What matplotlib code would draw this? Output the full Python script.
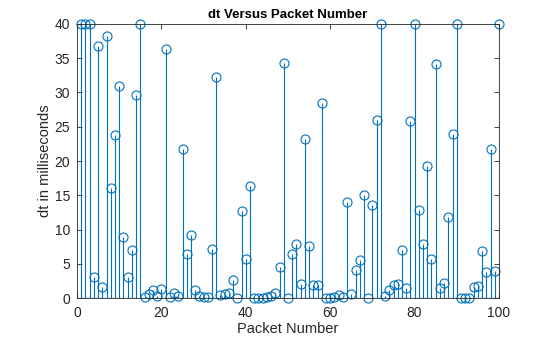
import numpy as np
import matplotlib.pyplot as plt

plt.rcParams['font.family'] = ['Liberation Sans', 'DejaVu Sans']

# inter-packet delay (ms) for each packet
packet = np.arange(1, 101)
dt_ms = [40, 40, 40, 3.1, 36.8, 1.6, 38.2, 16.1, 23.8, 31.0,
         8.9, 3.1, 7.0, 29.6, 40, 0.1, 0.6, 1.1, 0.3, 1.3,
         36.4, 0.2, 0.8, 0.3, 21.8, 6.4, 9.2, 1.2, 0.3, 0.2,
         0.2, 7.1, 32.3, 0.5, 0.6, 0.8, 2.6, 0.0, 12.7, 5.7,
         16.4, 0.0, 0.0, 0.0, 0.1, 0.3, 0.7, 4.5, 34.3, 0.0,
         6.4, 7.9, 2.0, 23.2, 7.6, 1.9, 1.9, 28.4, 0.0, 0.0,
         0.1, 0.4, 0.1, 14.0, 0.6, 4.1, 5.5, 15.0, 0.0, 13.6,
         26.0, 40, 0.3, 1.1, 1.9, 2.0, 7.0, 1.4, 25.9, 40,
         12.8, 7.9, 19.2, 5.7, 34.2, 1.5, 2.2, 11.8, 23.9, 40,
         0.0, 0.0, 0.0, 1.6, 1.8, 6.8, 3.8, 21.7, 3.9, 40]

blue = '#0072BD'
axcol = '#262626'

fig = plt.figure(figsize=(5.6, 3.37), dpi=100)
ax = fig.add_axes([0.1375, 0.1157, 0.7536, 0.8131])

markerline, stemlines, baseline = ax.stem(packet, dt_ms)
markerline.set_marker('o')
markerline.set_markerfacecolor('none')
markerline.set_markeredgecolor(blue)
markerline.set_markersize(6.5)
markerline.set_markeredgewidth(0.8)
markerline.set_clip_on(False)
stemlines.set_color(blue)
stemlines.set_linewidth(0.8)
baseline.set_color(axcol)
baseline.set_linewidth(0.8)

ax.set_xlim(0, 100)
ax.set_ylim(0, 40)
ax.set_xticks(np.arange(0, 101, 20))
ax.set_yticks(np.arange(0, 41, 5))
ax.tick_params(direction='in', top=True, right=True, length=3.5,
               width=0.6, labelsize=10, colors=axcol)
ax.tick_params(axis='x', pad=6)
ax.tick_params(axis='y', pad=5)
for s in ax.spines.values():
    s.set_color(axcol)
    s.set_linewidth(0.6)

ax.set_title('dt Versus Packet Number', fontsize=9.5, fontweight='bold',
             color='black', pad=4)
ax.set_xlabel('Packet Number', fontsize=10.5, color=axcol, labelpad=1)
ax.set_ylabel('dt in milliseconds', fontsize=10.5, color=axcol, labelpad=2)

fig.savefig('out.png', dpi=100)
